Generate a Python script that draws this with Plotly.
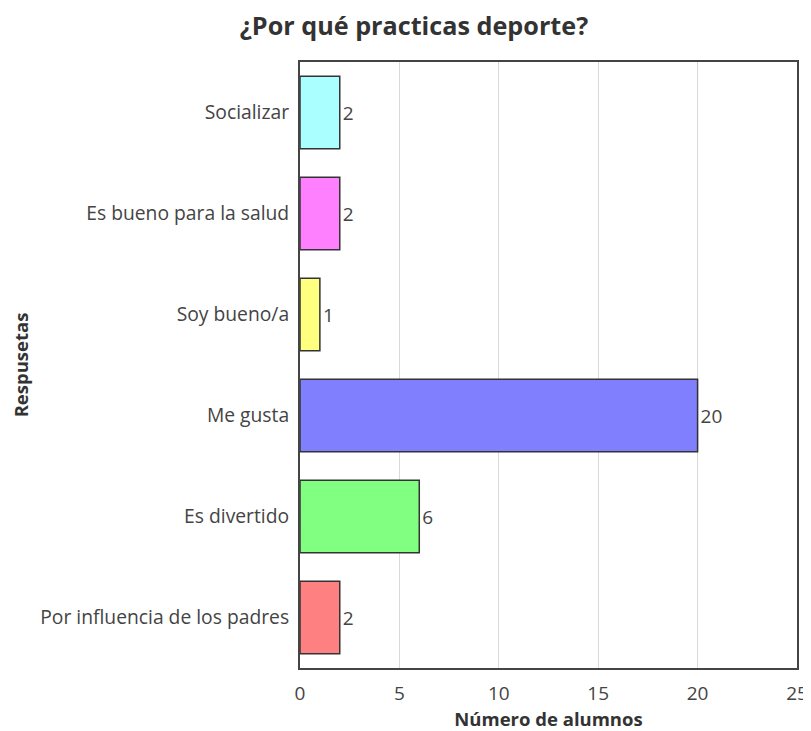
import plotly.graph_objects as go

categories = ["Por influencia de los padres", "Es divertido", "Me gusta", "Soy bueno/a",
              "Es bueno para la salud", "Socializar"]
values = [2, 6, 20, 1, 2, 2]
colors = ["#ff8080", "#80ff80", "#8080ff", "#ffff80", "#ff80ff", "#aaffff"]
x_ticks = [0, 5, 10, 15, 20, 25]

fig = go.Figure(go.Bar(
    x=values, y=categories, orientation="h",
    marker=dict(color=colors, line=dict(color="#333333", width=1.5)),
    width=0.72,
    text=[str(v) for v in values], textposition="outside",
    textfont=dict(family="Open Sans", size=19, color="#444444"),
    cliponaxis=False,
))

fig.update_layout(
    width=803, height=723,
    margin=dict(l=292, r=14, t=54, b=63),
    paper_bgcolor="white", plot_bgcolor="white",
    font=dict(family="Open Sans", size=19, color="#444444"),
    title=dict(text="<b>¿Por qué practicas deporte?</b>", x=0.5056, xanchor="center",
               y=0.975, yanchor="middle",
               font=dict(family="Open Sans", size=25.2, color="#333333")),
    showlegend=False,
)
fig.update_xaxes(
    range=[0, 25], tickvals=x_ticks, showgrid=True, gridcolor="#d9d9d9", gridwidth=1,
    showline=True, linecolor="#444444", linewidth=2, mirror=True, zeroline=False,
    title=dict(text="<b>Número de alumnos</b>", standoff=10,
               font=dict(family="Open Sans", size=18.5, color="#333333")),
    tickfont=dict(size=19, color="#444444"), ticks="", ticklabelstandoff=7,
    automargin=False,
)
fig.update_yaxes(
    categoryorder="array", categoryarray=categories,
    showline=True, linecolor="#444444", linewidth=2, mirror=True, showgrid=False,
    title=dict(text="<b>Respusetas</b>", standoff=10,
               font=dict(family="Open Sans", size=18.5, color="#333333")),
    tickfont=dict(size=19.3, color="#444444"), ticks="", ticklabelstandoff=5,
    automargin=False,
)
fig.write_html("out.html")
